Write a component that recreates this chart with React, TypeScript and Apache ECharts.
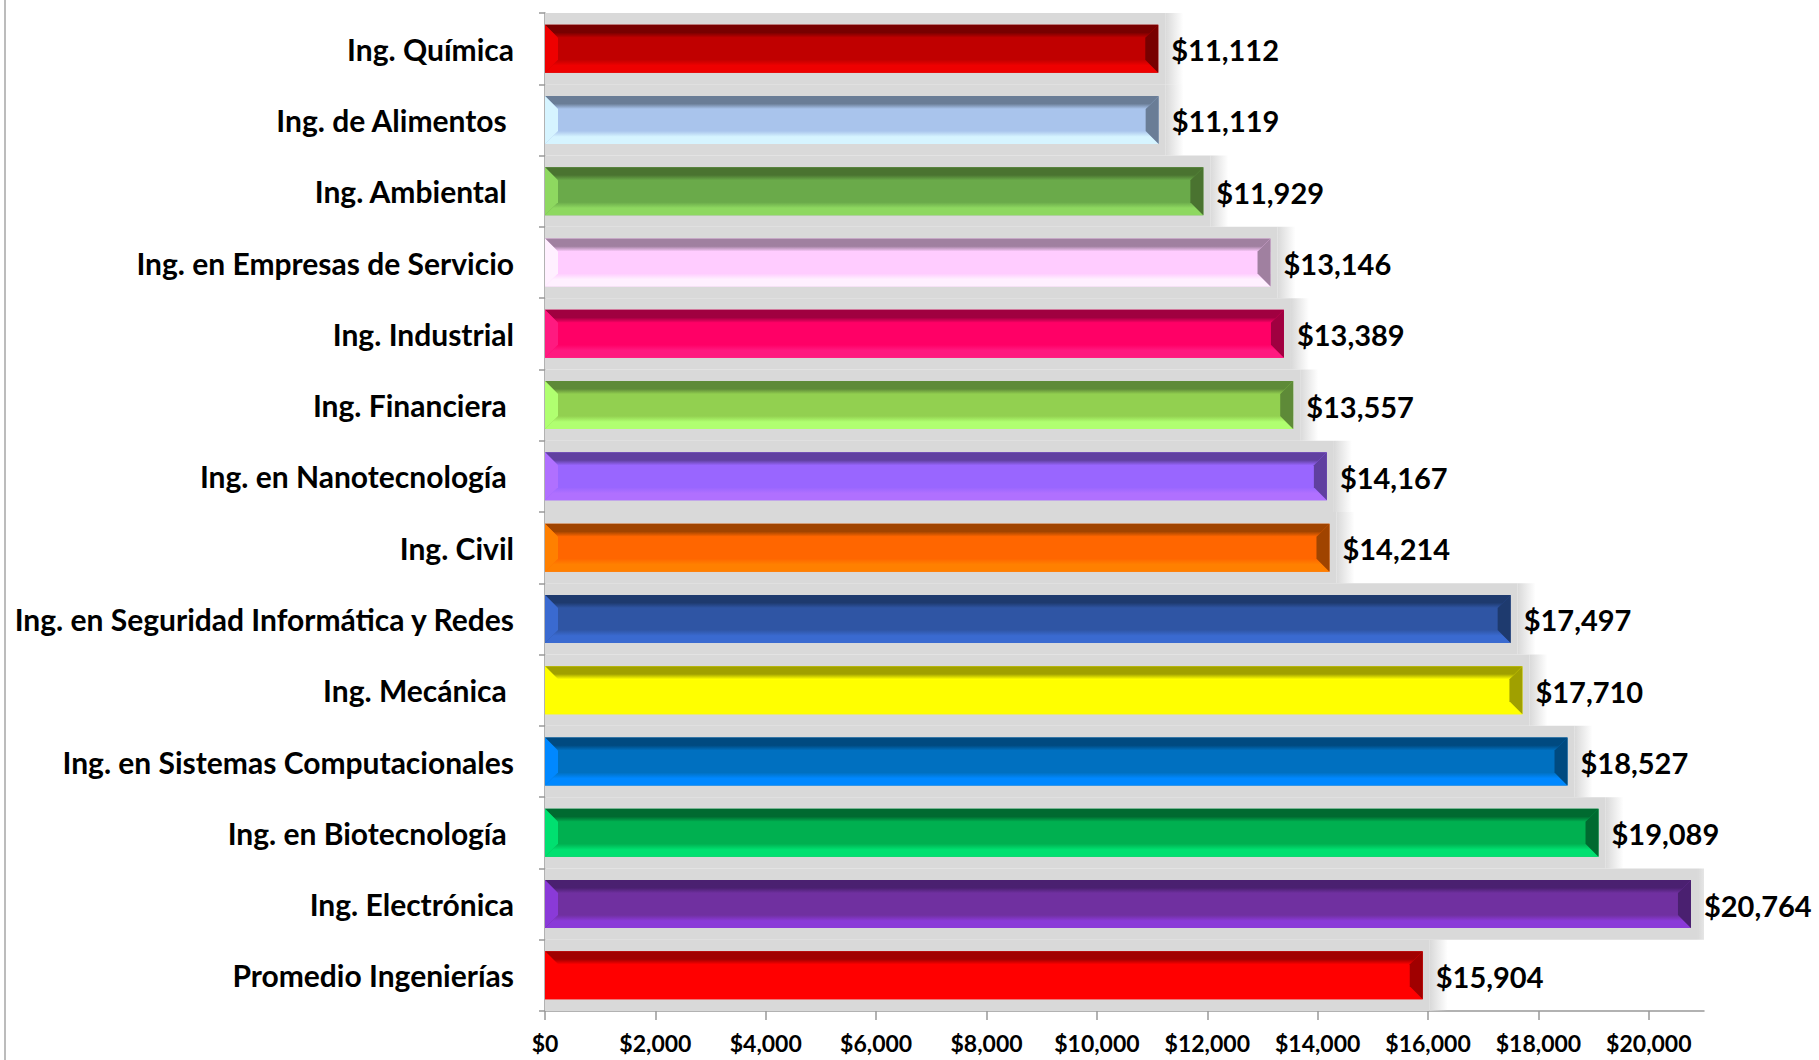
import React, { useEffect, useRef } from "react";
import * as echarts from "echarts";

const categories = [
  "Ing. Química",
  "Ing. de Alimentos ",
  "Ing. Ambiental ",
  "Ing. en Empresas de Servicio",
  "Ing. Industrial",
  "Ing. Financiera ",
  "Ing. en Nanotecnología ",
  "Ing. Civil",
  "Ing. en Seguridad Informática y Redes",
  "Ing. Mecánica ",
  "Ing. en Sistemas Computacionales",
  "Ing. en Biotecnología ",
  "Ing. Electrónica",
  "Promedio Ingenierías",
];

const salaries = [
  11112, 11119, 11929, 13146, 13389, 13557, 14167, 14214, 17497, 17710, 18527,
  19089, 20764, 15904,
];

const xTicks = [0, 2000, 4000, 6000, 8000, 10000, 12000, 14000, 16000, 18000, 20000];

const baseColors = [
  "#c00000", "#a9c4ec", "#6aaa4a", "#ffccff", "#ff0066", "#92d050", "#9966ff",
  "#ff6600", "#2f55a4", "#ffff00", "#0070c0", "#00b050", "#7030a0", "#ff0000",
];
const darkColors = [
  "#780000", "#6a7d96", "#4a7330", "#a080a0", "#a00040", "#5e8a38", "#6040a0",
  "#a04400", "#1e3a6e", "#a0a000", "#004a80", "#006a30", "#4a2070", "#a00000",
];
const lightColors = [
  "#ee0000", "#d6f4ff", "#8ed860", "#fff0ff", "#ff1a80", "#b0ff70", "#b070ff",
  "#ff8000", "#3a6ad0", "#ffff00", "#0088ff", "#00e070", "#8a3ad8", "#ff0000",
];

const FONT = "Lato, 'Open Sans', sans-serif";

function geometry(params: any, api: any) {
  const i = params.dataIndex;
  const v = api.value(0);
  const p0 = api.coord([0, i]);
  const p1 = api.coord([v, i]);
  const band = api.size([0, 1])[1];
  return { i, v, x0: p0[0], x1: p1[0], yc: p0[1], band };
}

function renderHaze(params: any, api: any) {
  const g = geometry(params, api);
  const top = g.yc - g.band / 2;
  return {
    type: "group",
    silent: true,
    children: [
      {
        type: "rect",
        shape: { x: g.x0, y: top, width: g.x1 - g.x0 + 7, height: g.band },
        style: { fill: "#d9d9d9" },
      },
      {
        type: "rect",
        shape: { x: g.x1 + 7, y: top, width: 18, height: g.band },
        style: {
          fill: new echarts.graphic.LinearGradient(0, 0, 1, 0, [
            { offset: 0, color: "rgba(217,217,217,1)" },
            { offset: 1, color: "rgba(217,217,217,0)" },
          ]),
        },
      },
    ],
  };
}

function renderBar(params: any, api: any) {
  const g = geometry(params, api);
  const i = g.i;
  const h = g.band * 0.673;
  const x0 = g.x0, x1 = g.x1;
  const y0 = g.yc - h / 2, y1 = g.yc + h / 2;
  const b = 13;
  const base = baseColors[i], dark = darkColors[i], light = lightColors[i];
  return {
    type: "group",
    children: [
      { type: "rect", shape: { x: x0, y: y0, width: x1 - x0, height: h }, style: { fill: base } },
      {
        type: "polygon",
        shape: { points: [[x0, y0], [x1, y0], [x1 - b, y0 + b], [x0 + b, y0 + b]] },
        style: {
          fill: new echarts.graphic.LinearGradient(0, 0, 0, 1, [
            { offset: 0, color: dark },
            { offset: 0.6, color: dark },
            { offset: 1, color: base },
          ]),
        },
      },
      {
        type: "polygon",
        shape: { points: [[x0, y1], [x1, y1], [x1 - b, y1 - b], [x0 + b, y1 - b]] },
        style: {
          fill: new echarts.graphic.LinearGradient(0, 0, 0, 1, [
            { offset: 0, color: base },
            { offset: 0.45, color: light },
            { offset: 1, color: light },
          ]),
        },
      },
      {
        type: "polygon",
        shape: { points: [[x0, y0], [x0 + b, y0 + b], [x0 + b, y1 - b], [x0, y1]] },
        style: { fill: light },
      },
      {
        type: "polygon",
        shape: { points: [[x1, y0], [x1, y1], [x1 - b, y1 - b], [x1 - b, y0 + b]] },
        style: { fill: dark },
      },
      {
        type: "text",
        x: x1 + 13,
        y: g.yc + 1,
        style: {
          text: "$" + g.v.toLocaleString("en-US"),
          font: `bold 29px ${FONT}`,
          fill: "#000",
          align: "left",
          verticalAlign: "middle",
        },
      },
    ],
  };
}

export default function App() {
  const ref = useRef<HTMLDivElement>(null);
  useEffect(() => {
    if (!ref.current) return;
    const chart = echarts.init(ref.current, null, { renderer: "svg" });
    const data = salaries.map((v, i) => [v, i]);
    chart.setOption({
      animation: false,
      backgroundColor: "#ffffff",
      grid: { left: 545, right: 115, top: 13, bottom: 49, containLabel: false },
      xAxis: {
        type: "value",
        min: 0,
        max: 21000,
        interval: 2000,
        splitLine: { show: false },
        axisLine: { show: true, lineStyle: { color: "#999999", width: 1.5 } },
        axisTick: { show: true, length: 9, customValues: xTicks, lineStyle: { color: "#999999", width: 1.5 } },
        axisLabel: {
          customValues: xTicks,
          margin: 20,
          color: "#000",
          fontFamily: FONT,
          fontWeight: "bold",
          fontSize: 23,
          formatter: (v: number) => "$" + v.toLocaleString("en-US"),
        },
      },
      yAxis: {
        type: "category",
        inverse: true,
        data: categories,
        axisLine: { show: true, lineStyle: { color: "#999999", width: 1.5 } },
        axisTick: { show: true, length: 6, lineStyle: { color: "#999999", width: 1.5 } },
        axisLabel: {
          margin: 31,
          color: "#000",
          fontFamily: FONT,
          fontWeight: "bold",
          fontSize: 30,
        },
      },
      graphic: [
        {
          type: "line",
          shape: { x1: 5, y1: 0, x2: 5, y2: 1060 },
          style: { stroke: "#a6a6a6", lineWidth: 1.5 },
          silent: true,
        },
      ],
      series: [
        { type: "custom", renderItem: renderHaze, data, encode: { x: 0, y: 1 }, clip: true, z: 1 },
        { type: "custom", renderItem: renderBar, data, encode: { x: 0, y: 1 }, z: 3 },
      ],
    });
    return () => chart.dispose();
  }, []);
  return (
    <div
      ref={ref}
      style={{ position: "fixed", left: 0, top: 0, width: 1819, height: 1060 }}
    />
  );
}
